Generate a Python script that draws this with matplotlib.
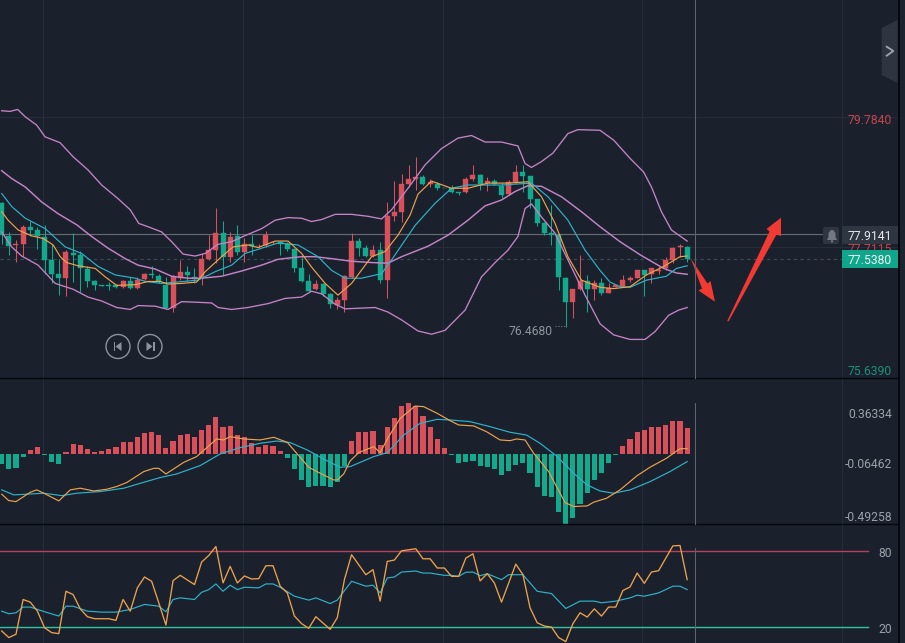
import matplotlib
matplotlib.use("Agg")
import matplotlib.pyplot as plt
from matplotlib.patches import Polygon, Circle, Rectangle, FancyBboxPatch

plt.rcParams['font.family'] = ['Roboto', 'DejaVu Sans']

opens = [78.40,77.88,77.75,77.76,78.02,77.98,77.87,77.52,77.30,77.24,77.63,77.60,77.38,77.19,77.13,77.13,77.13,77.11,77.19,77.09,
         77.23,77.30,77.28,77.14,76.79,77.25,77.33,77.26,77.24,77.53,77.67,77.94,77.56,77.89,77.64,77.77,77.73,77.75,77.79,77.80,
         77.76,77.69,77.39,77.19,77.07,77.15,77.00,76.83,76.90,77.26,77.81,77.71,77.58,77.67,77.21,78.19,78.25,78.68,78.77,78.80,
         78.68,78.68,78.63,78.62,78.56,78.56,78.76,78.82,78.70,78.73,78.66,78.53,78.71,78.87,78.81,78.45,78.08,77.93,77.90,77.25,
         76.87,77.07,77.19,77.08,77.16,77.02,77.11,77.12,77.21,77.24,77.36,77.30,77.35,77.39,77.52,77.72,77.72]
closes = [77.90,77.74,77.77,78.03,77.98,77.88,77.52,77.30,77.25,77.64,77.59,77.39,77.20,77.13,77.12,77.12,77.10,77.20,77.09,77.21,
          77.30,77.29,77.20,76.79,77.26,77.33,77.29,77.23,77.53,77.67,77.94,77.57,77.87,77.64,77.76,77.73,77.74,77.91,77.80,77.77,
          77.69,77.39,77.20,77.05,77.15,77.00,76.84,76.90,77.27,77.81,77.71,77.58,77.67,77.21,78.19,78.25,78.68,78.76,78.80,78.68,
          78.71,78.63,78.62,78.57,78.55,78.76,78.82,78.68,78.73,78.68,78.52,78.71,78.87,78.81,78.46,78.08,77.93,77.91,77.26,76.87,
          77.08,77.19,77.07,77.16,77.01,77.09,77.13,77.21,77.24,77.36,77.29,77.39,77.37,77.52,77.71,77.73,77.53]
highs = [78.41,77.95,77.83,78.06,78.12,78.03,78.06,77.77,77.54,77.67,77.94,77.65,77.42,77.21,77.13,77.18,77.15,77.21,77.26,77.26,
         77.32,77.43,77.31,77.26,77.29,77.52,77.43,77.39,77.62,77.90,78.31,78.12,77.95,78.05,77.85,77.90,77.77,77.97,77.81,77.81,
         77.80,77.71,77.57,77.30,77.21,77.17,77.02,76.95,77.29,77.94,77.85,77.75,77.75,77.80,78.41,78.73,78.84,78.98,79.10,78.82,
         78.77,78.72,78.63,78.67,78.57,78.80,78.98,78.84,78.79,78.76,78.70,78.75,78.98,78.98,78.81,78.46,78.11,78.36,77.93,77.26,
         77.08,77.59,77.29,77.21,77.24,77.17,77.14,77.29,77.27,77.36,77.36,77.39,77.43,77.57,77.72,77.76,77.73]
lows = [77.77,77.59,77.49,77.58,77.88,77.69,77.31,77.16,76.98,76.97,77.18,77.03,77.11,77.06,77.12,77.06,77.09,77.09,77.07,77.07,
        77.21,77.24,77.17,76.76,76.72,77.21,77.20,77.16,77.13,77.52,77.48,77.29,77.49,77.59,77.49,77.59,77.70,77.72,77.77,77.59,
        77.66,77.34,77.18,77.03,77.06,76.97,76.78,76.77,76.72,77.24,77.58,77.56,77.57,77.17,76.94,78.12,78.10,78.64,78.59,78.67,
        78.64,78.60,78.62,78.55,78.52,78.55,78.73,78.59,78.58,78.67,78.475,78.51,78.70,78.57,78.31,78.04,77.90,77.75,77.06,76.49,
        76.63,77.06,76.72,76.90,76.98,77.01,77.10,77.11,77.18,77.24,76.97,77.16,77.31,77.36,77.47,77.57,77.49]

upper_x = [0,1.17,2.24,3.27,4.9,6.07,8.17,10.04,12.1,14,16.3,18,19.2,20.5,22.4,23.8,25.4,27.1,28.5,30.3,32.2,34,36.4,38.3,40.1,42,
           43.4,44.8,46.7,49,51.3,53.2,54.6,56.9,59.3,61.6,63.9,65.8,67.7,70,72.3,73.3,74.2,75.6,77.2,79.3,80.7,83.8,85.7,88,89.9,91,92.4,93.8,96]
upper_y = [79.81,79.80,79.83,79.72,79.59,79.41,79.32,79.10,78.90,78.67,78.46,78.29,78.08,78.03,77.95,77.80,77.61,77.58,77.62,77.76,77.80,77.89,78.00,78.13,78.17,78.16,
           78.11,78.14,78.22,78.22,78.19,78.15,78.29,78.62,78.98,79.23,79.39,79.43,79.33,79.33,79.27,79.00,78.94,79.03,79.16,79.46,79.52,79.51,79.36,79.08,78.87,78.64,78.26,77.98,77.81]
middle_x = [0,1.4,3.3,5.6,7.9,10.5,12.6,14.9,17.3,19.1,21.5,23.8,26.1,28,30.8,33.6,36.4,38.7,41.1,42,
            43.9,46.2,49,51.8,54.1,56,59.7,62.5,65.3,67.7,70,71.9,73.7,75.6,78.4,81.2,83.8,86.6,89.4,92.7,94.5,96]
middle_y = [78.89,78.77,78.64,78.41,78.23,78.06,77.88,77.70,77.54,77.44,77.38,77.27,77.24,77.24,77.27,77.35,77.44,77.53,77.56,77.57,
            77.57,77.54,77.50,77.48,77.47,77.57,77.73,77.90,78.13,78.35,78.44,78.57,78.66,78.65,78.49,78.26,78.03,77.80,77.60,77.39,77.32,77.30]
lower_x = [0,1.4,2.8,5.1,7.5,10,12.1,14,16.1,18,19.1,21.5,23.3,25.2,27.5,29.4,30.3,32.2,34.5,37.3,39.7,42,
           43.4,44.8,46.7,48.1,52.3,54.1,56,58.3,60.2,62.1,64.9,67.2,69.1,70.9,72.3,73.3,74.2,75.6,77.5,79.3,81.7,83.8,85.7,88,90.1,91.5,93.4,94.8,96]
lower_y = [77.95,77.72,77.58,77.44,77.16,77.07,76.95,76.89,76.79,76.76,76.82,76.81,76.76,76.88,76.87,76.86,76.79,76.76,76.79,76.85,76.93,76.95,
           77.04,77.00,76.84,76.77,76.79,76.72,76.60,76.43,76.38,76.44,76.75,77.26,77.48,77.67,77.88,78.31,78.38,78.18,77.93,77.52,76.98,76.54,76.37,76.30,76.30,76.42,76.67,76.75,76.79]
ma_fast_x = [0,.9,2.3,4.2,5.8,7.2,8.2,9.1,10.7,13.1,14.5,16.1,18.7,20.5,22.2,23.3,25.2,27.3,28.5,30.8,32.4,34.5,35.9,38.3,40.1,42,
             43.4,45.3,47.1,49,51.8,53.7,55.5,57.2,58.3,60.2,63,65.3,68.1,70.9,73.7,75.6,77.5,79.3,81.2,83.8,85.7,88,90.3,92.7,95,96]
ma_fast_y = [78.26,78.13,77.98,77.89,77.85,77.75,77.57,77.48,77.43,77.39,77.26,77.13,77.14,77.19,77.19,77.15,77.16,77.18,77.34,77.57,77.72,77.75,77.71,77.81,77.81,77.62,
             77.41,77.16,76.98,77.16,77.57,77.65,77.90,78.21,78.53,78.73,78.62,78.62,78.70,78.70,78.72,78.49,78.08,77.57,77.21,77.10,77.08,77.11,77.29,77.42,77.57,77.58]
ma_slow_x = [0,1.4,3.3,6.1,8.9,11.2,13.5,15.9,18.7,20.1,22.4,27.5,29.9,32.2,34.1,36.4,38.7,41.5,
             44.3,46.2,48.1,50.4,53.2,54.6,57.9,60.7,63,65.3,70,74.2,76.5,79.3,81.7,83.8,85.2,86.6,88,90.3,93.1,94.5,96]
ma_slow_y = [78.54,78.34,78.16,78.00,77.72,77.62,77.42,77.29,77.24,77.19,77.16,77.21,77.34,77.44,77.62,77.70,77.78,77.75,
             77.57,77.36,77.24,77.24,77.31,77.52,78.05,78.39,78.62,78.67,78.67,78.70,78.49,78.13,77.67,77.36,77.18,77.11,77.10,77.21,77.27,77.39,77.43]

macd_hist = [-.083,-.128,-.117,-.028,.033,.056,-.006,-.064,-.086,.019,.081,.075,.039,.019,.025,.042,.056,.097,.103,.139,
             .178,.186,.158,.053,.108,.158,.164,.145,.200,.242,.306,.228,.234,.158,.139,.089,.056,.075,.069,.022,
             -.031,-.128,-.217,-.272,-.267,-.267,-.272,-.231,-.100,.108,.186,.186,.192,.075,.228,.297,.400,.428,.400,.317,
             .228,.125,.047,-.011,-.078,-.064,-.058,-.097,-.106,-.128,-.175,-.142,-.092,-.078,-.156,-.272,-.348,-.361,-.481,-.584,
             -.531,-.417,-.323,-.217,-.156,-.078,-.008,.070,.125,.186,.200,.222,.222,.245,.278,.278,.220]
dif_x = [0,.97,2,4,4.9,5.9,8,9.6,11,12.9,14.7,16.1,17.5,19.9,21.3,22,23,25.5,27.3,30.1,31.1,32,33.9,36.2,38.1,40,41.3,43,44.6,46.5,47,47.9,48.8,50,52.1,53,54.2,55.8,57.9,59.1,61,62.8,
         64,66.1,67.9,69.8,71.2,72.1,73.3,74.5,76.6,77.7,78.9,80.1,82,82.9,84.7,86.6,89,90.8,93.1,95,96]
dif_y = [-.336,-.389,-.398,-.320,-.300,-.328,-.392,-.300,-.286,-.309,-.295,-.272,-.239,-.147,-.120,-.120,-.167,-.070,-.022,.125,.117,.145,.125,.117,.139,.097,.006,-.111,-.161,-.217,-.217,-.167,-.058,.011,.061,.011,.145,.297,.400,.395,.339,.278,
         .242,.234,.186,.117,.111,.125,.117,.006,-.147,-.272,-.406,-.439,-.434,-.403,-.370,-.300,-.181,-.111,-.036,.044,.044]
dea_x = [0,1.7,4,5.9,8.4,10.5,13.8,17.1,19.4,22.2,24.5,27.8,30.6,33.4,36.2,38.5,40.4,42.8,45.6,47.4,48.8,52.1,54,56.3,58.6,61,62.8,
         65.6,68.4,71.2,73.5,75.4,77.7,80.1,82,83.8,85.7,88,90.8,93.6,96]
dea_y = [-.300,-.342,-.334,-.328,-.348,-.328,-.314,-.286,-.245,-.197,-.167,-.097,0,.053,.089,.108,.095,.033,-.058,-.111,-.106,-.022,.011,.158,.256,.289,.284,
         .270,.228,.181,.158,.089,-.017,-.161,-.259,-.309,-.328,-.300,-.231,-.147,-.064]

rsi_fast_x = [0,1,2,3,4,5,6,7,8,9,10,11,12,13,15,16,17,18,19,20,21,22,23,24,25,27,28,29,30,31,32,33,34,35,36,37,38,39,40,41,42,43,44,46,47,48,49,51,52,53,54,55,56,58,59,60,61,62,63,
              64,65,66,67,68,69,70,72,73,74,75,76,77,78,79,80,81,82,83,84,85,86,87,88,89,90,91,92,94,95,96]
rsi_fast_y = [16.6,11.4,14,41.5,39.4,32.3,19.2,15.3,14.5,48,45.4,34.1,27.9,26.3,26.3,25,41.5,32.3,50.7,59.3,55.9,38.9,21.3,56.4,60.6,53.3,71.1,76.3,83.4,54.6,67.7,54.6,60.1,57.7,58,68.2,68.2,52,46.7,28.4,22.4,18.7,27.9,17.9,27.1,57.2,76.9,61.1,65.1,40.2,71.6,72.7,80,81.6,73.7,73.7,66.4,66.4,59.8,
              59.8,74.2,77.6,56.2,61.9,54.6,39.4,69.5,61.1,34.9,23.1,20.5,19.7,11.4,8.2,22.4,31,27.6,34.1,28.4,35.5,35.5,48.6,51.4,62.4,54.3,63.2,64.3,83.9,84.2,57.2]
rsi_slow_x = [0,1,2,3,4,6,8,9,10,12,14,16,18,20,22,23,24,25,27,28,29,30,31,32,33,34,36,37,38,39,41,43,44,46,47,49,51,52,53,54,55,56,58,59,60,62,63,
              64,65,66,67,68,70,71,73,75,77,79,81,83,84,86,88,89,90,92,94,95,96]
rsi_slow_y = [32.3,30.2,31,35.5,35.5,31.8,28.4,36.2,36.2,32.3,31.5,31.5,33.6,37.6,36.2,31.8,41.5,42.8,41.5,47.2,49.3,53.8,48,52.8,49.3,51.2,50.7,53.8,53.8,51.2,44.1,41,42.8,38.3,41,55.9,52,52.8,46.7,58.5,59.3,63.2,64,62.4,62.4,60.6,60.6,
              59.8,63,63.2,60.3,61.9,57.2,61.1,61.1,48,46.2,34.4,40.2,40.2,38.9,40.2,42.8,44.9,44.1,46.7,52,52,49.3]

price_labels = ["79.7840", "75.6390", "77.9141", "77.7115", "77.5380", "76.4680"]
macd_labels = ["0.36334", "-0.06462", "-0.49258"]
rsi_labels = ["80", "20"]
crosshair_price = 77.9141
rsi_levels = [80, 20]

W, H = 905, 643
BG = '#1a212d'
UP, DOWN = '#d9505a', '#12a98c'
PINK, ORANGE, CYAN = '#c583c6', '#eda24c', '#2fb2c9'
GRID = '#242d3a'
GRAY = '#9ba1a9'

fig = plt.figure(figsize=(W/100, H/100), dpi=100, facecolor=BG)

def panel(top, bottom):
    ax = fig.add_axes([0, 1-bottom/H, 897/W, (bottom-top)/H], facecolor=BG)
    ax.set_xlim(-0.238, 125.39)
    ax.set_xticks([5.78, 33.8, 61.8, 89.7, 117.7])
    ax.grid(axis='x', color=GRID, lw=0.75)
    ax.tick_params(length=0, labelbottom=False, labelleft=False)
    for s in ax.spines.values():
        s.set_visible(False)
    ax.set_axisbelow(True)
    return ax

ax1 = panel(0, 378)
ax1.set_ylim(75.708, 81.51)
ax1.set_yticks([79.71, 77.72])
ax1.grid(axis='y', color=GRID, lw=0.75)
idx = range(len(opens))
cols = [UP if c >= o else DOWN for o, c in zip(opens, closes)]
ax1.vlines(idx, lows, highs, colors=cols, lw=0.75, zorder=3)
ax1.bar(idx, [c-o for o, c in zip(opens, closes)], bottom=opens, width=0.7,
        color=cols, edgecolor=cols, lw=0.3, zorder=3)
ax1.axhline(closes[-1], xmax=842/897, color='#3d4b57', lw=0.8, ls=(0, (3, 3)), zorder=2)
ax1.axhline(crosshair_price, xmax=825/897, color='#666d77', lw=0.8, zorder=2)
ax1.plot(upper_x, upper_y, color=PINK, lw=0.95, zorder=4)
ax1.plot(middle_x, middle_y, color=PINK, lw=1.05, zorder=4)
ax1.plot(lower_x, lower_y, color=PINK, lw=0.95, zorder=4)
ax1.plot(ma_slow_x, ma_slow_y, color=CYAN, lw=0.85, zorder=5)
ax1.plot(ma_fast_x, ma_fast_y, color=ORANGE, lw=0.85, zorder=5)

ax2 = panel(379, 524)
ax2.set_ylim(-0.585, 0.626)
hcols = [UP if v >= 0 else DOWN for v in macd_hist]
ax2.bar(range(len(macd_hist)), macd_hist, width=0.72, color=hcols, zorder=2)
ax2.plot(dea_x, dea_y, color=CYAN, lw=0.85, zorder=3)
ax2.plot(dif_x, dif_y, color=ORANGE, lw=0.85, zorder=4)

ax3 = panel(525, 643)
ax3.set_ylim(7.1, 100.4)
ax3.axhline(rsi_levels[0], xmax=868/897, color='#b8405a', lw=1.0, zorder=2)
ax3.axhline(rsi_levels[1], xmax=868/897, color='#35c2a2', lw=1.0, zorder=2)
ax3.plot(rsi_slow_x, rsi_slow_y, color=CYAN, lw=0.85, zorder=3)
ax3.plot(rsi_fast_x, rsi_fast_y, color=ORANGE, lw=0.95, zorder=4)

# pixel-space overlay for interface furniture, labels and hand-drawn arrows
ov = fig.add_axes([0, 0, 1, 1], facecolor='none', zorder=10)
ov.set_xlim(0, W)
ov.set_ylim(H, 0)
ov.axis('off')

for y in (378, 524):
    ov.plot([0, 898], [y, y], color='#05070a', lw=1.0)
ov.add_patch(Rectangle((898, 0), 2, H, color='#06080c', lw=0))
ov.add_patch(Rectangle((900, 0), 5, H, color='#1c2430', lw=0))
for a, b in [(0, 378), (403, 524), (548, 643)]:
    ov.plot([695, 695], [a, b], color='#5d6570', lw=0.75)

FS = 8.7
DY = 1.2
ov.text(892, 119+DY, price_labels[0], color='#c4454f', ha='right', va='center', fontsize=FS)
ov.text(892, 370+DY, price_labels[1], color='#1c9077', ha='right', va='center', fontsize=FS)
ov.text(892, 249.5, price_labels[3], color='#c4454f', ha='right', va='center', fontsize=FS, zorder=1)
ov.add_patch(Rectangle((842, 226), 55.5, 18, color='#2e3642', lw=0, zorder=2))
ov.add_patch(Rectangle((842, 250), 55.5, 18, color='#0fa68b', lw=0, zorder=2))
ov.text(892, 235.5+DY, price_labels[2], color='#e6e8ea', ha='right', va='center', fontsize=FS, zorder=3)
ov.text(892, 259.5+DY, price_labels[4], color='#f2f4f4', ha='right', va='center', fontsize=FS, zorder=3)
ov.text(553, 330+DY, price_labels[5], color='#8f959d', ha='right', va='center', fontsize=FS)
ov.plot([555, 566], [326, 326], color='#8f959d', lw=0.7, ls=(0, (1, 2)))

for t, y in zip(macd_labels, (413, 463.5, 516)):
    ov.text(892, y+DY, t, color=GRAY, ha='right', va='center', fontsize=FS)
for t, y in zip(rsi_labels, (552, 628)):
    ov.text(892, y+DY, t, color=GRAY, ha='right', va='center', fontsize=FS)

# bell
ov.add_patch(FancyBboxPatch((823, 227), 16, 17, boxstyle='round,pad=0,rounding_size=2', color='#2e3642', lw=0))
ov.add_patch(Polygon([(827, 240), (828.5, 237), (828.5, 233), (831, 230), (833, 230), (835.5, 233), (835.5, 237), (837, 240)],
                     closed=True, color='#727985', lw=0))
ov.add_patch(Circle((832, 241.3), 1.2, color='#727985', lw=0))

# collapse tab
ov.add_patch(Polygon([(881.7, 28), (897.5, 20), (897.5, 83), (881.7, 75)], closed=True, color='#2e3541', lw=0))
ov.plot([886.7, 893.3, 886.7], [46.7, 51, 55.7], color='#a0a6ae', lw=1.3)

# replay buttons
for cx in (118, 150):
    ov.add_patch(Circle((cx, 346.5), 12, fill=False, ec='#8d939c', lw=1.0))
ov.add_patch(Polygon([(121.5, 342), (121.5, 351), (115.5, 346.5)], closed=True, color='#8d939c', lw=0))
ov.add_patch(Rectangle((113.5, 342), 1.8, 9, color='#8d939c', lw=0))
ov.add_patch(Polygon([(146.5, 342), (146.5, 351), (152.5, 346.5)], closed=True, color='#8d939c', lw=0))
ov.add_patch(Rectangle((152.7, 342), 1.8, 9, color='#8d939c', lw=0))

# red arrows
RED = '#f23a33'
ov.add_patch(Polygon([(690.7, 258.3), (707.5, 283.5), (710.5, 281), (715, 301.7), (698.5, 290.5), (702, 288.5)],
                     closed=True, color=RED, lw=0))
ov.add_patch(Polygon([(727.2, 321), (769.5, 231.5), (766.5, 229), (781, 217.7), (781, 236), (776.5, 234.5), (728.5, 321.5)],
                     closed=True, color=RED, lw=0))

fig.savefig('out.png', dpi=100, facecolor=BG)
